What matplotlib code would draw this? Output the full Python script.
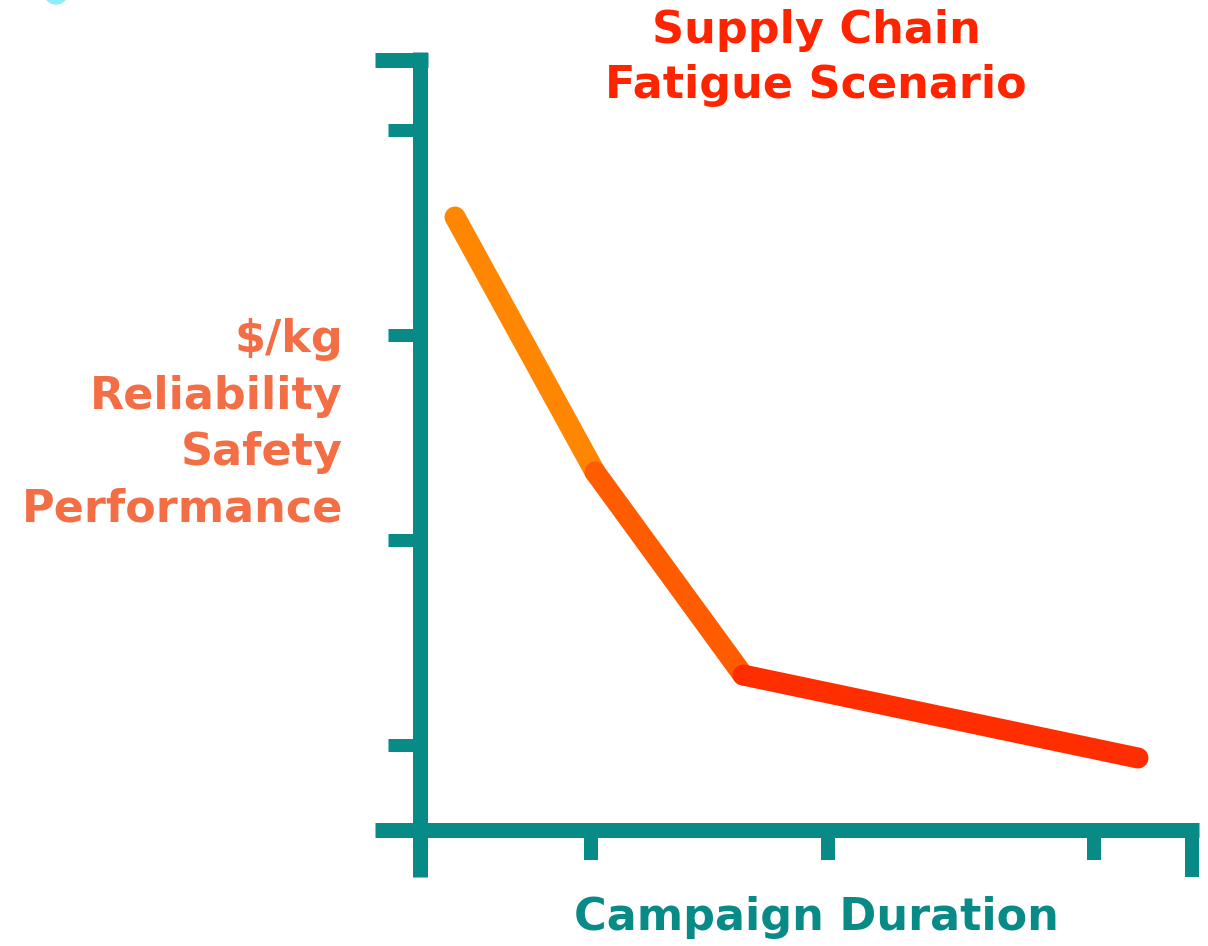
import matplotlib
matplotlib.use("Agg")
import matplotlib.pyplot as plt
from matplotlib.collections import LineCollection
from matplotlib.patches import Circle
import numpy as np

# ---- data (illustrative units) ----
duration = [35, 175, 323, 718]          # campaign duration
performance = [613, 358, 155, 72]       # $/kg, reliability, safety, performance
x_ticks = [171, 408, 674]
y_ticks = [85, 290, 495, 700]
seg_colors = ["#ff8600", "#ff5c00", "#ff2e00"]

title = "Supply Chain\nFatigue Scenario"
ylabel = "$/kg\nReliability\nSafety\nPerformance"
xlabel = "Campaign Duration"

TEAL = "#088a87"
W, H = 1208, 946
fig = plt.figure(figsize=(W / 100, H / 100), dpi=100)
fig.patch.set_facecolor("white")

x0, x1 = 420, 1192
y0, y1 = 830, 52
ax = fig.add_axes([x0 / W, (H - y0) / H, (x1 - x0) / W, (y0 - y1) / H])
ax.set_xlim(0, x1 - x0)
ax.set_ylim(0, y0 - y1)
for s in ax.spines.values():
    s.set_visible(False)
ax.set_facecolor("none")

px = 72 / 100  # points per pixel
axw = 15 * px
# axis lines
ax.plot([0, 0], [778, -47], color=TEAL, lw=axw, solid_capstyle="butt", clip_on=False, zorder=3)
ax.plot([-45, 779], [0, 0], color=TEAL, lw=axw, solid_capstyle="butt", clip_on=False, zorder=3)
ax.plot([-45, 7.5], [770.5, 770.5], color=TEAL, lw=axw, solid_capstyle="butt", clip_on=False, zorder=3)
ax.plot([772, 772], [7.5, -47], color=TEAL, lw=14 * px, solid_capstyle="butt", clip_on=False, zorder=3)

ax.set_xticks(x_ticks)
ax.set_yticks(y_ticks)
ax.set_xticklabels([])
ax.set_yticklabels([])
ax.tick_params(axis="y", direction="out", length=32 * px, width=13 * px, color=TEAL)
ax.tick_params(axis="x", direction="out", length=30 * px, width=14 * px, color=TEAL)

# gradient line
pts = np.column_stack([duration, performance])
segs = [pts[i:i + 2] for i in range(len(pts) - 1)]
lc = LineCollection(segs, colors=seg_colors, linewidths=21 * px, capstyle="round", joinstyle="round", zorder=4)
ax.add_collection(lc)

font = "DejaVu Sans"
fig.text(816 / W, 1 - 9 / H, title, ha="center", va="top", color="#ff2400",
         fontsize=32, fontweight="bold", family=font, linespacing=1.36)
fig.text(343 / W, 1 - 318 / H, ylabel, ha="right", va="top", color="#f36d45",
         fontsize=32, fontweight="bold", family=font, linespacing=1.4, parse_math=False)
fig.text(816 / W, 1 - 896 / H, xlabel, ha="center", va="top", color=TEAL,
         fontsize=32, fontweight="bold", family=font)

fig.patches.append(Circle((56, H + 8), 12, transform=None, color="#8feef5", zorder=0))

fig.savefig("out.png", dpi=100, facecolor="white")
